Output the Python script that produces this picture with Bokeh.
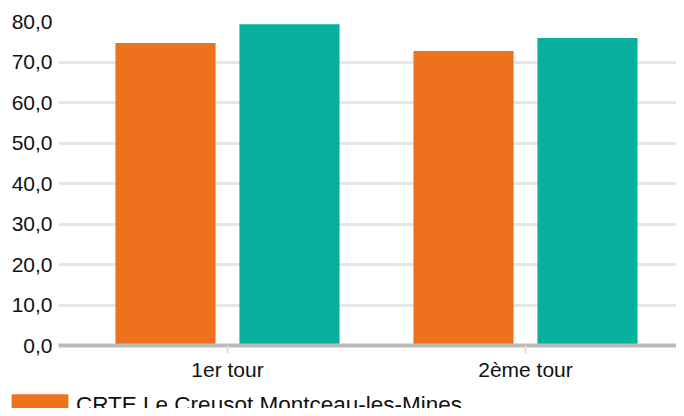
from bokeh.plotting import figure
from bokeh.layouts import column, row
from bokeh.models import ColumnDataSource, Legend, LegendItem, FixedTicker, Range1d
from bokeh.embed import file_html
from bokeh.resources import INLINE

categories = ["1er tour", "2ème tour"]
legend_label = "CRTE Le Creusot Montceau-les-Mines"
orange_values = [74.7, 72.7]
teal_values = [79.3, 75.9]
y_ticks = [0, 10, 20, 30, 40, 50, 60, 70, 80]
y_tick_labels = ["0,0", "10,0", "20,0", "30,0", "40,0", "50,0", "60,0", "70,0", "80,0"]

ORANGE = "#EE711E"
TEAL = "#06B09C"
FONT = "Liberation Sans"
W = 676

xpos = list(range(len(categories)))
offset = 0.208
bar_w = 0.336

src_o = ColumnDataSource(dict(x=[v - offset for v in xpos], top=orange_values))
src_t = ColumnDataSource(dict(x=[v + offset for v in xpos], top=teal_values))

p = figure(width=W, height=391, output_backend="svg", toolbar_location=None,
           x_range=Range1d(-0.5671, 1.5067), y_range=Range1d(0, 80))
p.min_border_left = 58
p.min_border_right = 0
p.min_border_top = 21
p.min_border_bottom = 46
p.outline_line_color = None
p.background_fill_color = "white"
p.border_fill_color = "white"

r_o = p.vbar(x="x", top="top", width=bar_w, bottom=0, source=src_o,
             fill_color=ORANGE, line_color=None)
r_t = p.vbar(x="x", top="top", width=bar_w, bottom=0, source=src_t,
             fill_color=TEAL, line_color=None)

# x axis
p.xaxis.ticker = FixedTicker(ticks=xpos)
p.xaxis.major_label_overrides = {i: c for i, c in enumerate(categories)}
p.xaxis.axis_line_color = "#BBBBBB"
p.xaxis.axis_line_width = 4
p.xaxis.major_tick_line_color = "#DDDDDD"
p.xaxis.major_tick_line_width = 2
p.xaxis.major_tick_in = 0
p.xaxis.major_tick_out = 8
p.xaxis.minor_tick_line_color = None
p.xaxis.major_label_text_font = FONT
p.xaxis.major_label_text_font_size = "21px"
p.xaxis.major_label_text_color = "#111111"
p.xaxis.major_label_standoff = 4
p.xgrid.grid_line_color = None

# y axis
p.yaxis.ticker = FixedTicker(ticks=y_ticks)
p.yaxis.major_label_overrides = {t: l for t, l in zip(y_ticks, y_tick_labels)}
p.yaxis.axis_line_color = None
p.yaxis.major_tick_line_color = None
p.yaxis.major_tick_in = 0
p.yaxis.major_tick_out = 0
p.yaxis.minor_tick_line_color = None
p.yaxis.minor_tick_in = 0
p.yaxis.minor_tick_out = 0
p.yaxis.major_label_text_font = FONT
p.yaxis.major_label_text_font_size = "21px"
p.yaxis.major_label_text_color = "#111111"
p.yaxis.major_label_standoff = 6
p.ygrid.grid_line_color = "#E6E6E6"
p.ygrid.grid_line_width = 3
p.ygrid.ticker = FixedTicker(ticks=y_ticks)

# legend strip below the chart (cut off at the bottom like the reference)
pl = figure(width=W, height=17, output_backend="svg", toolbar_location=None,
            x_axis_type=None, y_axis_type=None,
            x_range=Range1d(-0.5671, 1.5067), y_range=Range1d(100, 200))
pl.min_border_left = 4
pl.min_border_right = 0
pl.min_border_top = 0
pl.min_border_bottom = 0
pl.outline_line_color = None
pl.grid.visible = False
rl = pl.vbar(x="x", top="top", width=bar_w, bottom=0, source=src_o,
             fill_color=ORANGE, line_color=None)

legend = Legend(items=[LegendItem(label=legend_label, renderers=[rl])],
                location="top_left", orientation="vertical")
legend.padding = 0
legend.margin = 0
legend.spacing = 0
legend.border_line_color = None
legend.background_fill_alpha = 0
legend.glyph_width = 71
legend.glyph_height = 28
legend.label_height = 28
legend.label_standoff = 1
legend.label_text_font = FONT
legend.label_text_font_size = "22.5px"
legend.label_text_color = "#111111"
pl.add_layout(legend, "center")

layout = column(p, row(pl, spacing=0), spacing=0)
open("out.html", "w").write(file_html(layout, INLINE))
